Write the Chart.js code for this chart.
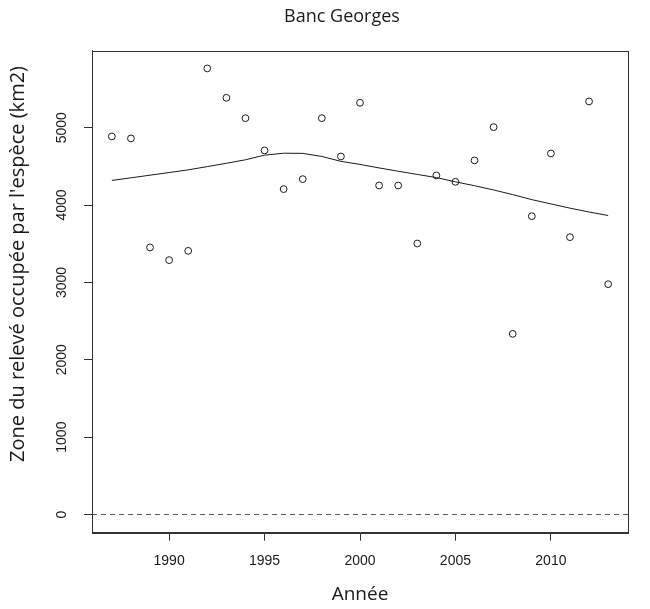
<!DOCTYPE html>
<html>
<head>
<meta charset="utf-8">
<script src="https://cdn.jsdelivr.net/npm/chart.js@4.4.1/dist/chart.umd.min.js"></script>
<style>
  html, body { margin: 0; padding: 0; background: #fff; }
  #wrap { width: 650px; height: 609px; }
</style>
</head>
<body>
<div id="wrap"><canvas id="georges" width="650" height="609"></canvas></div>
<script>
// values
const years = [1987, 1988, 1989, 1990, 1991, 1992, 1993, 1994, 1995, 1996, 1997, 1998, 1999,
               2000, 2001, 2002, 2003, 2004, 2005, 2006, 2007, 2008, 2009, 2010, 2011, 2012, 2013];
const surveyArea = [4887, 4861, 3452, 3288, 3408, 5766, 5386, 5123, 4706, 4206, 4335, 5123, 4628,
                    5321, 4253, 4253, 3503, 4383, 4300, 4577, 5007, 2335, 3856, 4667, 3585, 5339, 2977];
const smoothArea = [4318, 4352, 4386, 4420, 4455, 4497, 4540, 4585, 4645, 4670, 4668, 4628, 4565,
                    4525, 4480, 4437, 4396, 4355, 4300, 4250, 4195, 4135, 4070, 4015, 3960, 3910, 3865];
const xTicks = [1990, 1995, 2000, 2005, 2010];
const yTicks = [0, 1000, 2000, 3000, 4000, 5000];
const xRange = [1985.96, 2014.04];
const yRange = [-235, 5995];
const refLevel = 0;

const ink = '#1a1a1a';

// box around the plot region, like R's bty="o"
const plotBox = {
  id: 'plotBox',
  afterDatasetsDraw(chart) {
    const {ctx, chartArea: a} = chart;
    ctx.save();
    ctx.strokeStyle = '#333';
    ctx.lineWidth = 1;
    ctx.strokeRect(Math.round(a.left) + 0.5, Math.round(a.top) + 0.5,
                   Math.round(a.right - a.left), Math.round(a.bottom - a.top));
    ctx.restore();
  }
};

// y label sits a bit above the plot centre in the original
const yLabel = {
  id: 'yLabel',
  afterDraw(chart) {
    const ctx = chart.ctx;
    ctx.save();
    ctx.translate(18, 264);
    ctx.rotate(-Math.PI / 2);
    ctx.font = '20px "Open Sans"';
    ctx.fillStyle = ink;
    ctx.textAlign = 'center';
    ctx.textBaseline = 'middle';
    ctx.fillText("Zone du relevé occupée par l'espèce (km2)", 0, 0);
    ctx.restore();
  }
};

new Chart(document.getElementById('georges'), {
  type: 'scatter',
  data: {
    datasets: [
      {
        label: 'observé',
        data: years.map((y, i) => ({x: y, y: surveyArea[i]})),
        pointStyle: 'circle',
        pointRadius: 3.4,
        pointBorderWidth: 1,
        pointBorderColor: ink,
        pointBackgroundColor: 'rgba(255,255,255,0)',
        showLine: false,
        order: 1
      },
      {
        label: 'lissage',
        data: years.map((y, i) => ({x: y, y: smoothArea[i]})),
        showLine: true,
        borderColor: ink,
        borderWidth: 1,
        pointRadius: 0,
        tension: 0,
        order: 2
      },
      {
        label: 'zéro',
        data: xRange.map(x => ({x: x, y: refLevel})),
        showLine: true,
        borderColor: '#555',
        borderWidth: 1,
        borderDash: [5, 4],
        pointRadius: 0,
        order: 3
      }
    ]
  },
  options: {
    responsive: false,
    animation: false,
    devicePixelRatio: 1,
    // left padding pulls the full-width title to sit where the original has it
    layout: { padding: { left: 56, right: 22, top: 0, bottom: 0 } },
    plugins: {
      legend: { display: false },
      tooltip: { enabled: false },
      title: {
        display: true,
        text: 'Banc Georges',
        color: ink,
        font: { family: '"Open Sans"', size: 18, weight: 'normal' },
        padding: { top: 5.7, bottom: 23.4 }
      }
    },
    scales: {
      x: {
        type: 'linear',
        min: xRange[0],
        max: xRange[1],
        afterBuildTicks: s => { s.ticks = xTicks.map(v => ({value: v})); },
        afterFit: s => { s.height = 76.3; },
        grid: { drawOnChartArea: false, drawTicks: true, tickLength: 8, color: '#333', tickColor: '#333' },
        border: { display: true, color: '#333' },
        ticks: {
          color: ink,
          padding: 12,
          maxRotation: 0,
          font: { family: '"Liberation Sans", Arial', size: 14 },
          callback: v => String(v)
        },
        title: {
          display: true,
          text: 'Année',
          color: ink,
          font: { family: '"Open Sans"', size: 19 },
          padding: { top: 0, bottom: 2.6 }
        }
      },
      y: {
        type: 'linear',
        min: yRange[0],
        max: yRange[1],
        afterBuildTicks: s => { s.ticks = yTicks.map(v => ({value: v})); },
        afterFit: s => { s.width = 36; },
        grid: { drawOnChartArea: false, drawTicks: true, tickLength: 8, color: '#333', tickColor: '#333' },
        border: { display: true, color: '#333' },
        ticks: {
          color: ink,
          padding: 6,
          minRotation: 90,
          maxRotation: 90,
          crossAlign: 'center',
          font: { family: '"Liberation Sans", Arial', size: 14 },
          callback: v => String(v)
        }
      }
    }
  },
  plugins: [plotBox, yLabel]
});
</script>
</body>
</html>
